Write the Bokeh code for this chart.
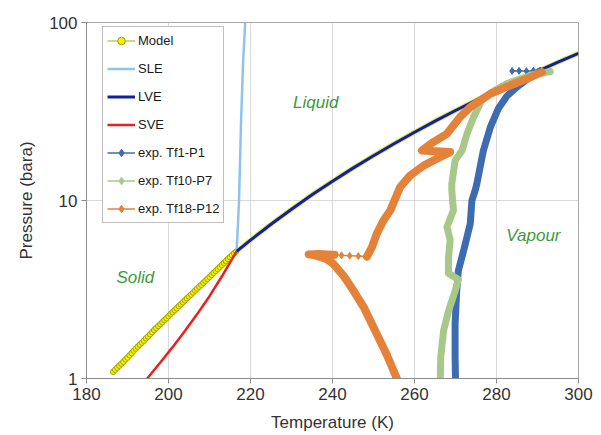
from bokeh.plotting import figure
from bokeh.models import (FixedTicker, Legend, LegendItem, CustomJSTickFormatter, Range1d)
from bokeh.core.properties import value
from bokeh.embed import file_html
from bokeh.resources import INLINE

# ---------------- data ----------------
x_ticks = [180, 200, 220, 240, 260, 280, 300]
y_ticks = [1, 10, 100]

model_T = [186.5, 187.0, 187.5, 188.0, 188.5, 189.0, 189.5, 190.0, 190.5, 191.0, 191.5, 192.0,
           192.5, 193.0, 193.5, 194.0, 194.5, 195.0, 195.5, 196.0, 196.5, 197.0, 197.5, 198.0,
           198.5, 199.0, 199.5, 200.0, 200.5, 201.0, 201.5, 202.0, 202.5, 203.0, 203.5, 204.0,
           204.5, 205.0, 205.5, 206.0, 206.5, 207.0, 207.5, 208.0, 208.5, 209.0, 209.5, 210.0,
           210.5, 211.0, 211.5, 212.0, 212.5, 213.0, 213.5, 214.0, 214.5, 215.0, 215.5, 216.0,
           216.5]
model_P = [1.09, 1.12, 1.15, 1.18, 1.21, 1.24, 1.28, 1.31, 1.35, 1.39, 1.43, 1.47,
           1.51, 1.55, 1.59, 1.63, 1.68, 1.72, 1.77, 1.82, 1.87, 1.92, 1.97, 2.02,
           2.07, 2.13, 2.18, 2.24, 2.30, 2.36, 2.42, 2.48, 2.55, 2.61, 2.68, 2.75,
           2.82, 2.89, 2.96, 3.04, 3.12, 3.20, 3.28, 3.36, 3.45, 3.54, 3.63, 3.72,
           3.82, 3.92, 4.02, 4.12, 4.23, 4.34, 4.45, 4.57, 4.69, 4.81, 4.93, 5.05,
           5.17]

sle_T = [216.6, 216.9, 217.2, 217.7, 218.2, 218.7]
sle_P = [5.18, 7.0, 10.0, 28.0, 60.0, 100.0]

lve_T = [216.6, 220, 225, 230, 235, 240, 245, 250, 255, 260, 265, 270, 275, 280, 285, 290, 295, 300]
lve_P = [5.18, 5.99, 7.36, 8.93, 10.78, 12.83, 15.2, 17.85, 20.84, 24.19, 27.94, 32.03, 36.59,
         41.6, 47.1, 53.2, 59.8, 67.1]

sve_T = [194.8, 198, 201, 204, 207, 210, 213, 216.6]
sve_P = [1.0, 1.23, 1.50, 1.85, 2.30, 2.90, 3.74, 5.18]

tf1_sparse_T = [283.8, 285.5, 287.3, 289.0, 290.6]
tf1_sparse_P = [53.4, 53.5, 53.3, 53.6, 53.5]
tf1_T = [290.6, 289.5, 287.5, 285.0, 282.5, 280.5, 278.5, 276.8, 275.2, 274.8, 274.0, 273.6,
         272.0, 270.7, 270.3, 269.9, 269.9, 270.0]
tf1_P = [53.5, 51.5, 48.0, 43.5, 38.5, 33.0, 25.8, 19.1, 12.4, 11.4, 10.0, 7.4,
         5.24, 4.04, 3.12, 2.03, 1.32, 1.0]

tf10_T = [293.1, 289.0, 285.5, 282.5, 279.5, 276.4, 274.4, 272.8, 271.6, 269.9, 269.1, 269.1,
          269.5, 267.9, 268.7, 268.3, 268.3, 270.7, 269.9, 268.3, 267.1, 266.4, 266.3]
tf10_P = [53.0, 51.0, 48.0, 45.3, 41.5, 36.5, 29.4, 23.7, 19.1, 16.8, 12.4, 11.4,
          8.8, 7.1, 6.0, 4.8, 3.9, 3.6, 3.1, 2.4, 1.86, 1.32, 1.0]

tf18_T = [291.1, 287.4, 283.3, 278.5, 273.6, 271.1, 267.9, 264.6, 261.8, 265.2, 268.7, 266.2,
          262.2, 258.9, 256.5, 254.1, 252.4, 250.8, 249.6, 248.4]
tf18_P = [52.6, 48.3, 44.3, 39.8, 33.5, 29.4, 23.7, 21.3, 19.1, 18.9, 18.7, 17.5,
          15.7, 13.8, 11.9, 8.8, 7.7, 6.5, 5.46, 4.84]
tf18_sparse_T = [248.4, 246.3, 244.2, 242.2, 240.5]
tf18_sparse_P = [4.84, 4.87, 4.90, 4.92, 4.95]
tf18_low_T = [240.5, 238.5, 236.5, 234.2, 236.0, 238.5, 240.2, 242.6, 245.1, 247.6, 250.8, 253.3, 255.7]
tf18_low_P = [4.95, 4.98, 5.0, 4.98, 4.9, 4.7, 4.41, 3.8, 3.12, 2.52, 1.78, 1.35, 1.0]

region_names = ["Liquid", "Vapour", "Solid"]
region_T = [235.9, 289.0, 191.9]
region_P = [35.5, 6.36, 3.71]

# ---------------- figure ----------------
FONT = "Liberation Sans"
p = figure(width=601, height=435, x_range=Range1d(180, 300), y_range=Range1d(1, 100),
           y_axis_type="log", output_backend="svg", toolbar_location=None)
p.min_border_left = 86
p.min_border_right = 23
p.min_border_top = 22
p.min_border_bottom = 57
p.background_fill_color = "white"
p.border_fill_color = "white"
p.outline_line_color = "#a6a6a6"

p.xaxis.ticker = FixedTicker(ticks=x_ticks)
p.yaxis.ticker = FixedTicker(ticks=y_ticks)
p.yaxis.formatter = CustomJSTickFormatter(code="return tick.toString();")
p.xgrid.grid_line_color = "#d9d9d9"
p.ygrid.grid_line_color = "#d9d9d9"
for ax in (p.xaxis, p.yaxis):
    ax.axis_line_color = "#8c8c8c"
    ax.major_tick_line_color = "#8c8c8c"
    ax.major_tick_out = 5
    ax.major_tick_in = 0
    ax.minor_tick_line_color = None
    ax.major_label_text_font = FONT
    ax.major_label_text_font_size = "17px"
    ax.major_label_text_color = "#333333"
    ax.axis_label_text_font = FONT
    ax.axis_label_text_font_size = "17px"
    ax.axis_label_text_font_style = "normal"
    ax.axis_label_text_color = "#333333"
p.xaxis.axis_label = "Temperature (K)"
p.yaxis.axis_label = "Pressure (bara)"
p.xaxis.major_label_standoff = 4
p.yaxis.major_label_standoff = 4
p.xaxis.axis_label_standoff = 10
p.yaxis.axis_label_standoff = 10

# region labels
p.text(x=region_T, y=region_P, text=region_names, text_font=value(FONT),
       text_font_size="17px", text_font_style="italic", text_color="#3d993d",
       text_align="center", text_baseline="middle")

# model (bottom layer)
p.line(lve_T, lve_P, line_color="#e6e64d", line_width=5)
m_line = p.line(model_T, model_P, line_color="#c8c850", line_width=1.5)
m_pts = p.scatter(model_T, model_P, marker="circle", size=5.5, fill_color="#f2f200",
                  line_color="#a3a300", line_width=1)

sle = p.line(sle_T, sle_P, line_color="#8fc3ec", line_width=2.5)
lve = p.line(lve_T, lve_P, line_color="#1020a0", line_width=3)
sve = p.line(sve_T, sve_P, line_color="#e8211f", line_width=2.5)


def exp_series(thick_parts, full_T, full_P, color, thick_w):
    for (tt, pp) in thick_parts:
        p.line(tt, pp, line_color=color, line_width=thick_w, line_join="round", line_cap="round")
    ln = p.line(full_T, full_P, line_color=color, line_width=1.5)
    sc = p.scatter(full_T, full_P, marker="diamond", size=7, fill_color=color, line_color=color)
    return ln, sc


b_ln, b_sc = exp_series([(tf1_T, tf1_P)], tf1_sparse_T + tf1_T, tf1_sparse_P + tf1_P,
                        "#3d6db0", 7)
g_ln, g_sc = exp_series([(tf10_T, tf10_P)], tf10_T, tf10_P, "#a8c88a", 7)
o_ln, o_sc = exp_series([(tf18_T, tf18_P), (tf18_low_T, tf18_low_P)],
                        tf18_T + tf18_sparse_T + tf18_low_T,
                        tf18_P + tf18_sparse_P + tf18_low_P, "#e5823a", 8)

legend = Legend(items=[
    LegendItem(label="Model", renderers=[m_line, m_pts]),
    LegendItem(label="SLE", renderers=[sle]),
    LegendItem(label="LVE", renderers=[lve]),
    LegendItem(label="SVE", renderers=[sve]),
    LegendItem(label="exp. Tf1-P1", renderers=[b_ln, b_sc]),
    LegendItem(label="exp. Tf10-P7", renderers=[g_ln, g_sc]),
    LegendItem(label="exp. Tf18-P12", renderers=[o_ln, o_sc]),
], location=(16, 155))
legend.border_line_color = "#7f7f7f"
legend.background_fill_color = "white"
legend.background_fill_alpha = 1
legend.label_text_font = FONT
legend.label_text_font_size = "13px"
legend.label_text_color = "#1a1a1a"
legend.glyph_width = 28
legend.glyph_height = 19
legend.label_height = 19
legend.spacing = 9
legend.padding = 4
legend.margin = 0
legend.label_standoff = 3
p.add_layout(legend)

open("out.html", "w").write(file_html(p, INLINE))
